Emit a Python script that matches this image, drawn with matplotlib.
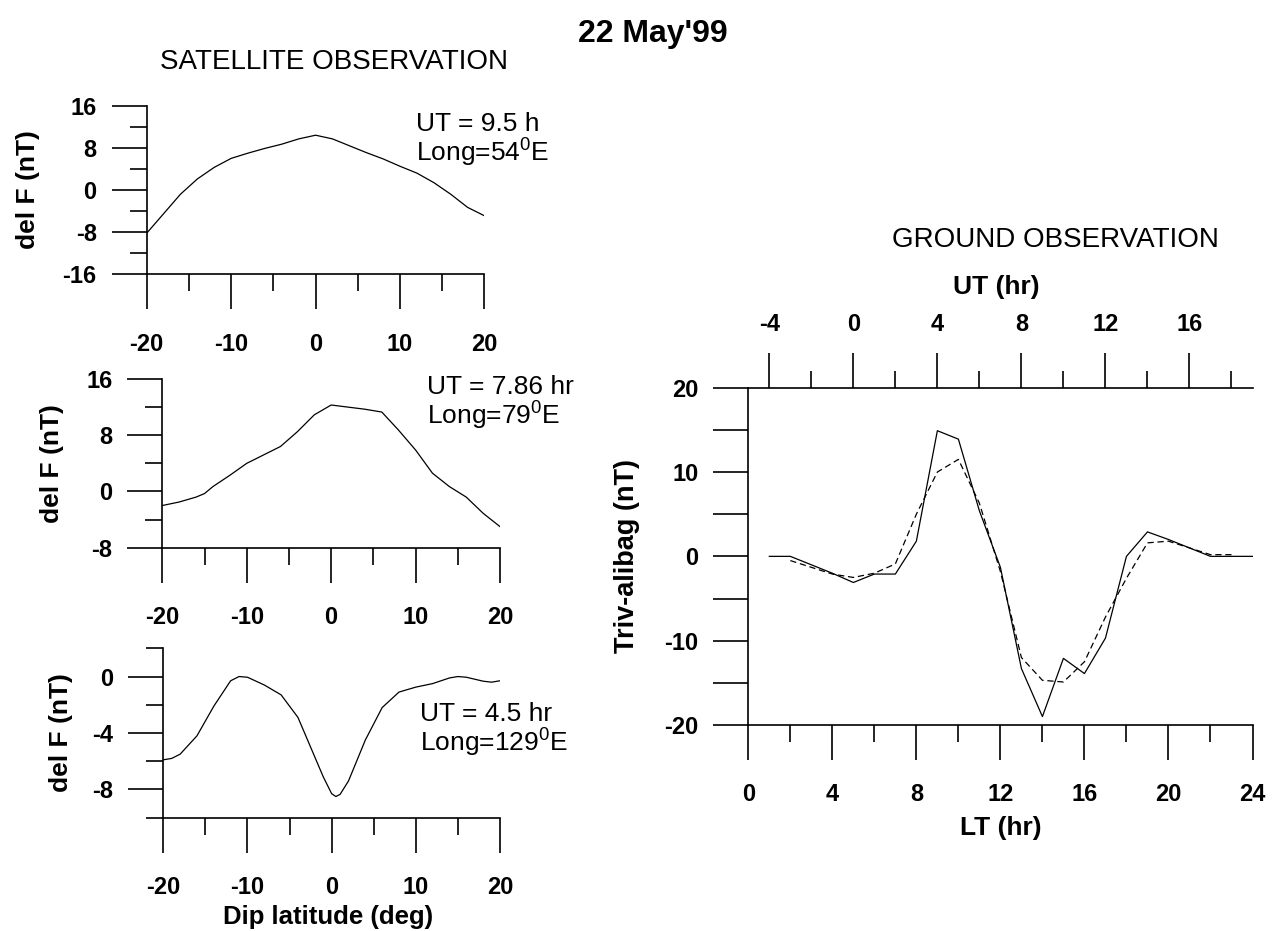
import matplotlib
matplotlib.use("Agg")
import matplotlib.pyplot as plt
from matplotlib.ticker import MultipleLocator, FixedLocator

plt.rcParams["font.family"] = ["Liberation Sans", "DejaVu Sans"]
plt.rcParams["font.weight"] = "bold"
plt.rcParams["axes.labelweight"] = "bold"
plt.rcParams["axes.unicode_minus"] = False
plt.rcParams["mathtext.default"] = "regular"

# --- satellite passes: dip latitude (deg) vs del F (nT) ---
lat1 = [-20, -18, -16, -14, -12, -10, -8, -6, -4, -2, 0, 2, 4, 6, 8, 10, 12, 14, 16, 18, 20]
dF1 = [-8.2, -4.5, -0.8, 2.1, 4.3, 6.0, 7.0, 7.9, 8.7, 9.7, 10.4, 9.7, 8.4, 7.1, 5.9, 4.5, 3.2, 1.4, -0.8, -3.3, -4.9]

lat2 = [-20, -18, -16, -15, -14, -12, -10, -8, -6, -4, -2, 0, 2, 4, 6, 8, 10, 12, 14, 16, 18, 20]
dF2 = [-2.0, -1.5, -0.8, -0.3, 0.7, 2.3, 4.0, 5.2, 6.4, 8.5, 10.9, 12.3, 12.0, 11.7, 11.3, 8.7, 5.9, 2.6, 0.7, -0.8, -3.1, -5.0]

lat3 = [-20, -19, -18, -16, -14, -12, -11, -10, -8, -6, -4, -2, -1, 0, 0.5, 1, 2, 4, 6, 8, 10, 12, 14, 15, 16, 18, 19, 20]
dF3 = [-5.9, -5.8, -5.5, -4.2, -2.1, -0.3, 0.0, -0.05, -0.6, -1.3, -2.9, -5.7, -7.1, -8.3, -8.5, -8.35, -7.4,
       -4.5, -2.2, -1.1, -0.75, -0.5, -0.1, 0.0, -0.05, -0.33, -0.4, -0.3]

sat_ut = ["UT = 9.5 h", "UT = 7.86 hr", "UT = 4.5 hr"]
sat_long = ["Long=54$^{0}$E", "Long=79$^{0}$E", "Long=129$^{0}$E"]

# --- ground observation: local time (hr) vs Triv-Alibag (nT) ---
lt_solid = list(range(1, 25))
dh_solid = [0, 0, -1.0, -2.0, -3.1, -2.1, -2.1, 1.8, 14.9, 13.9, 5.4, -1.3,
            -13.3, -19.0, -12.1, -13.9, -9.7, 0, 2.9, 2.0, 1.0, 0, 0, 0]
lt_dash = list(range(2, 24))
dh_dash = [-0.5, -1.3, -2.1, -2.5, -2.0, -0.9, 5.0, 10.0, 11.5, 6.3, -1.8,
           -12.0, -14.7, -14.9, -12.5, -7.2, -2.6, 1.6, 1.8, 1.0, 0.2, 0.2]
ut_offset = 5  # LT = UT + 5
ut_major = [-4, 0, 4, 8, 12, 16]
ut_minor = [-2, 2, 6, 10, 14, 18]

W, H = 1283, 931
fig = plt.figure(figsize=(W / 100, H / 100), dpi=100)


def px_rect(x0, x1, ytop, ybot):
    return [x0 / W, 1 - ybot / H, (x1 - x0) / W, (ybot - ytop) / H]


def px_text(x, y, s, **kw):
    fig.text(x / W, 1 - y / H, s, **kw)


LW = 1.2
MAJ, MIN = 25, 12.5


def style_sat(ax, ylim, ymaj, ymin):
    ax.set_xlim(-20, 20)
    ax.set_ylim(*ylim)
    for s in ("top", "right"):
        ax.spines[s].set_visible(False)
    for s in ("left", "bottom"):
        ax.spines[s].set_linewidth(LW)
    ax.xaxis.set_major_locator(MultipleLocator(10))
    ax.xaxis.set_minor_locator(MultipleLocator(5))
    ax.yaxis.set_major_locator(MultipleLocator(ymaj))
    ax.yaxis.set_minor_locator(MultipleLocator(ymin))
    ax.tick_params(which="both", direction="out", width=LW, labelsize=17)
    ax.tick_params(which="major", length=MAJ)
    ax.tick_params(which="minor", length=MIN)
    ax.tick_params(axis="x", pad=17)
    ax.tick_params(axis="y", pad=11)
    ax.set_ylabel("del F (nT)", fontsize=19, fontweight="bold")
    ax.yaxis.label.set_va("center")


# panel 1
ax1 = fig.add_axes(px_rect(146.7, 484.5, 105.7, 274.3))
ax1.plot(lat1, dF1, color="black", lw=0.9)
style_sat(ax1, (-16, 16), 8, 4)
ax1.yaxis.set_label_coords(-0.35, 0.5)

# panel 2
ax2 = fig.add_axes(px_rect(162.3, 500, 379, 547.7))
ax2.plot(lat2, dF2, color="black", lw=0.9)
style_sat(ax2, (-8, 16), 8, 4)
ax2.yaxis.set_label_coords(-0.327, 0.5)

# panel 3
ax3 = fig.add_axes(px_rect(163.3, 500, 648.3, 817.7))
ax3.plot(lat3, dF3, color="black", lw=0.9)
style_sat(ax3, (-10, 2), 4, 2)
ax3.yaxis.set_label_coords(-0.305, 0.5)
ax3.set_xlabel("Dip latitude (deg)", fontsize=18.5, fontweight="bold")
ax3.xaxis.set_label_coords(0.49, -0.585)
ax3.xaxis.label.set_va("center")

# annotations on satellite panels
ann_pos = [(416, 131, 162), (427, 394, 425), (420, 721, 752)]
for (x, y_ut, y_long), t_ut, t_long in zip(ann_pos, sat_ut, sat_long):
    px_text(x, y_ut, t_ut, fontsize=19, fontweight="normal", va="baseline")
    px_text(x, y_long, t_long, fontsize=19, fontweight="normal", va="baseline")

# ground panel
axg = fig.add_axes(px_rect(748.3, 1252.5, 387.7, 725))
axg.plot(lt_solid, dh_solid, color="black", lw=0.9)
axg.plot(lt_dash, dh_dash, color="black", lw=0.9, ls=(0, (5, 3)))
axg.set_xlim(0, 24)
axg.set_ylim(-20, 20)
for s in ("top", "right"):
    axg.spines[s].set_visible(False)
for s in ("left", "bottom"):
    axg.spines[s].set_linewidth(LW)
axg.xaxis.set_major_locator(MultipleLocator(4))
axg.xaxis.set_minor_locator(MultipleLocator(2))
axg.yaxis.set_major_locator(MultipleLocator(10))
axg.yaxis.set_minor_locator(MultipleLocator(5))
axg.tick_params(which="both", direction="out", width=LW, labelsize=17)
axg.tick_params(axis="x", which="major", length=MAJ, pad=17)
axg.tick_params(axis="x", which="minor", length=MIN)
axg.tick_params(axis="y", which="both", length=MAJ, pad=11)
axg.set_ylabel("Triv-alibag (nT)", fontsize=19.5, fontweight="bold")
axg.yaxis.label.set_va("center")
axg.yaxis.set_label_coords(-0.24, 0.5)
axg.set_xlabel("LT (hr)", fontsize=19, fontweight="bold")
axg.xaxis.label.set_va("center")
axg.xaxis.set_label_coords(0.5, -0.305)

sec = axg.secondary_xaxis("top", functions=(lambda lt: lt - ut_offset, lambda ut: ut + ut_offset))
sec.spines["top"].set_linewidth(LW)
sec.xaxis.set_major_locator(FixedLocator(ut_major))
sec.xaxis.set_minor_locator(FixedLocator(ut_minor))
sec.tick_params(which="both", direction="out", width=LW, labelsize=17)
sec.tick_params(which="major", length=MAJ, pad=12)
sec.tick_params(which="minor", length=MIN)
px_text(996, 287, "UT (hr)", fontsize=19, fontweight="bold", ha="center", va="center")

# headings
px_text(653, 42, "22 May'99", fontsize=23, fontweight="bold", ha="center", va="baseline")
px_text(334, 69, "SATELLITE OBSERVATION", fontsize=20, fontweight="normal", ha="center", va="baseline")
px_text(1055, 247, "GROUND OBSERVATION", fontsize=20, fontweight="normal", ha="center", va="baseline")

fig.savefig("out.png", dpi=100, facecolor="white")
